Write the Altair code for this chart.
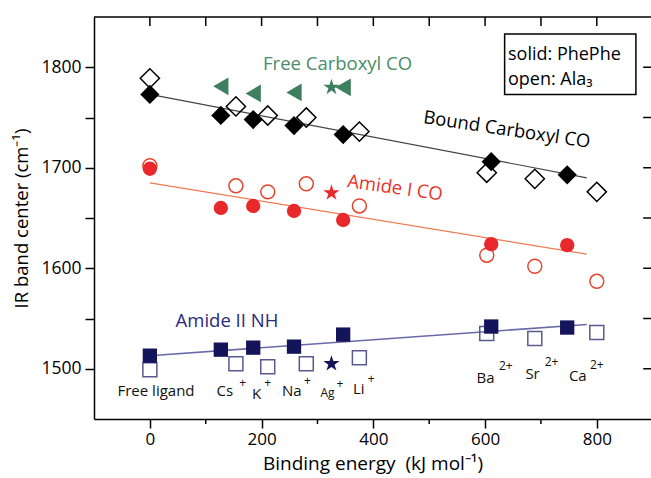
import altair as alt
import pandas as pd

# ---------------- data ----------------
phe_x = [0, 127, 185, 258, 346, 611, 747]          # PhePhe: free, Cs, K, Na, Li, Ba, Ca
ala_x = [0, 154, 211, 280, 375, 603, 689, 800]     # Ala3: free, Cs, K, Na, Li, Ba, Sr, Ca
phe_co = [1773, 1752, 1748, 1742, 1733, 1706, 1693]
ala_co = [1789, 1761, 1752, 1750, 1736, 1695, 1689, 1676]
phe_am1 = [1699, 1660, 1662, 1657, 1648, 1624, 1623]
ala_am1 = [1702, 1682, 1676, 1684, 1662, 1613, 1602, 1587]
phe_am2 = [1513, 1519, 1521, 1522, 1534, 1542, 1541]
ala_am2 = [1499, 1505, 1502, 1505, 1511, 1535, 1530, 1536]
free_x = [127, 185, 258, 346]
free_co = [1781, 1774, 1775, 1780]
ag_x = 325
ag_free, ag_am1, ag_am2 = 1780, 1675, 1505
fit_x = [0, 782]
fit_co = [1773, 1690]
fit_am1 = [1685, 1614]
fit_am2 = [1513, 1544]

ann_text = ["Free Carboxyl CO", "Bound Carboxyl CO", "Amide I CO", "Amide II NH"]
ann_x = [336, 639, 439, 138]
ann_y = [1803, 1738, 1680, 1548]
ann_col = ["#4a8c6a", "#000000", "#e8342a", "#2a2a7a"]
ann_ang = [0, 8.5, 8, 0]

ion_text = ["Free ligand", "Cs", "K", "Na", "Li", "Ba", "Sr", "Ca"]
ion_x = [11, 134, 191, 254, 374, 601, 685, 766]
ion_y = [1478, 1478, 1475, 1478, 1480, 1491, 1495, 1493]
ag_label_x, ag_label_y = 318, 1476
sup_text = ["+", "+", "+", "+", "+", "2+", "2+", "2+"]
sup_x = [166, 211, 282, 340, 396, 637, 719, 800]
sup_y = [1486, 1486, 1488, 1485, 1490, 1503, 1507, 1504]

box_x = [635, 870]
box_y = [1773, 1833]
leg_text = ["solid: PhePhe", "open: Ala\u2083"]
leg_x = [641, 641]
leg_y = [1812, 1787]

x_lo, x_hi = -100, 897
y_lo, y_hi = 1450, 1850
top_ticks = [0, 100, 200, 300, 400, 500, 600, 700, 800]
minor_ticks = [100, 300, 500, 700]
y_ticks = [1500, 1550, 1600, 1650, 1700, 1750, 1800]

# ---------------- chart ----------------
W, H = 557, 402
FONT = "Open Sans"
STAR = ("M0,-1L0.2233,-0.3074L0.9511,-0.309L0.3614,0.1174L0.5878,0.809L0,0.38"
        "L-0.5878,0.809L-0.3614,0.1174L-0.9511,-0.309L-0.2233,-0.3074Z")
xs = alt.Scale(domain=[x_lo, x_hi], nice=False, zero=False)
ys = alt.Scale(domain=[y_lo, y_hi], nice=False, zero=False)

x_axis = alt.Axis(values=[0, 200, 400, 600, 800], format="d", orient="bottom",
                  tickSize=9, tickWidth=1.5, tickColor="black",
                  domainColor="black", domainWidth=1.5, grid=False,
                  labelFont=FONT, labelFontSize=17, labelColor="black", labelPadding=3,
                  titleFont=FONT, titleFontSize=19, titleFontWeight="normal", titleColor="black",
                  titlePadding=7)
y_axis = alt.Axis(values=y_ticks, format="d", orient="left",
                  labelExpr="datum.value % 100 === 0 ? datum.label : ''",
                  tickSize=9, tickWidth=1.5, tickColor="black",
                  domainColor="black", domainWidth=1.5, grid=False,
                  labelFont=FONT, labelFontSize=17.5, labelColor="black", labelPadding=4,
                  titleFont=FONT, titleFontSize=18.5, titleFontWeight="normal", titleColor="black",
                  titlePadding=9)

XT = "Binding energy\u00a0 (kJ mol\u207b\u00b9)"
YT = "IR band center (cm\u207b\u00b9)"


def X(f="x"):
    return alt.X(f"{f}:Q", scale=xs, axis=x_axis, title=XT)


def Y(f="y"):
    return alt.Y(f"{f}:Q", scale=ys, axis=y_axis, title=YT)


def pts(xv, yv, shape, color, filled, size, sw=1.5):
    df = pd.DataFrame({"x": xv, "y": yv})
    return alt.Chart(df).mark_point(shape=shape, filled=filled, color=color, size=size,
                                    strokeWidth=sw, opacity=1).encode(x=X(), y=Y())


def fit(yv, color, sw):
    df = pd.DataFrame({"x": fit_x, "y": yv})
    return alt.Chart(df).mark_line(color=color, strokeWidth=sw).encode(x=X(), y=Y())


def rules(df, sw=1.5):
    enc = {"x": X(), "y": Y()}
    if "x2" in df:
        enc["x2"] = alt.X2("x2:Q")
    if "y2" in df:
        enc["y2"] = alt.Y2("y2:Q")
    return alt.Chart(df).mark_rule(color="black", strokeWidth=sw).encode(**enc)


def label(t, xv, yv, color, size, angle=0, align="center"):
    df = pd.DataFrame({"t": [t] if isinstance(t, str) else t,
                       "x": [xv] if not isinstance(xv, list) else xv,
                       "y": [yv] if not isinstance(yv, list) else yv})
    return alt.Chart(df).mark_text(font=FONT, fontSize=size, color=color, angle=angle,
                                   align=align, baseline="middle").encode(x=X(), y=Y(), text="t:N")


layers = []
layers += [fit(fit_co, "#444444", 1.2), fit(fit_am1, "#f07a55", 1.3), fit(fit_am2, "#6a6aa8", 1.6)]
layers += [
    pts(ala_x, ala_co, "diamond", "#000000", False, 370),
    pts(ala_x, ala_am1, "circle", "#e5452e", False, 195),
    pts(ala_x, ala_am2, "square", "#5a5a90", False, 195),
]
layers += [
    pts(phe_x, phe_co, "diamond", "#000000", True, 370),
    pts(phe_x, phe_am1, "circle", "#e8282a", True, 205),
    pts(phe_x, phe_am2, "square", "#14145a", True, 205),
    pts(free_x, free_co, "triangle-left", "#3d7f5e", True, 310),
    pts([ag_x], [ag_free], STAR, "#3d7f5e", True, 290),
    pts([ag_x], [ag_am1], STAR, "#e8282a", True, 290),
    pts([ag_x], [ag_am2], STAR, "#14145a", True, 290),
]

layers.append(rules(pd.DataFrame({"x": [x_lo], "x2": [x_hi], "y": [y_hi]})))
layers.append(rules(pd.DataFrame({"x": top_ticks, "y": [y_hi] * len(top_ticks),
                                  "y2": [y_hi - 9] * len(top_ticks)})))
layers.append(rules(pd.DataFrame({"x": minor_ticks, "y": [y_lo] * len(minor_ticks),
                                  "y2": [y_lo - 5] * len(minor_ticks)})))
layers.append(rules(pd.DataFrame({"y": y_ticks, "x": [x_hi] * len(y_ticks),
                                  "x2": [x_hi - 14] * len(y_ticks)})))

for t, xv, yv, c, a in zip(ann_text, ann_x, ann_y, ann_col, ann_ang):
    layers.append(label(t, xv, yv, c, 18.5, a))
layers.append(label(ion_text, ion_x, ion_y, "#111111", 15))
layers.append(label("Ag", ag_label_x, ag_label_y, "#111111", 12))
layers.append(label(sup_text, sup_x, sup_y, "#111111", 12))

box_df = pd.DataFrame({"x": [box_x[0]], "x2": [box_x[1]], "y": [box_y[0]], "y2": [box_y[1]]})
layers.append(alt.Chart(box_df).mark_rect(fill="white", stroke="black", strokeWidth=1.5)
              .encode(x=X(), x2=alt.X2("x2:Q"), y=Y(), y2=alt.Y2("y2:Q")))
layers.append(label(leg_text, leg_x, leg_y, "black", 18, 0, "left"))

chart = alt.layer(*layers).properties(
    width=W, height=H,
    autosize=alt.AutoSizeParams(type="none"),
    padding={"left": 94, "top": 17, "right": 0, "bottom": 59},
    background="white",
).configure_view(strokeWidth=0)

chart.save("out.html", embed_options={"renderer": "svg", "actions": False})
